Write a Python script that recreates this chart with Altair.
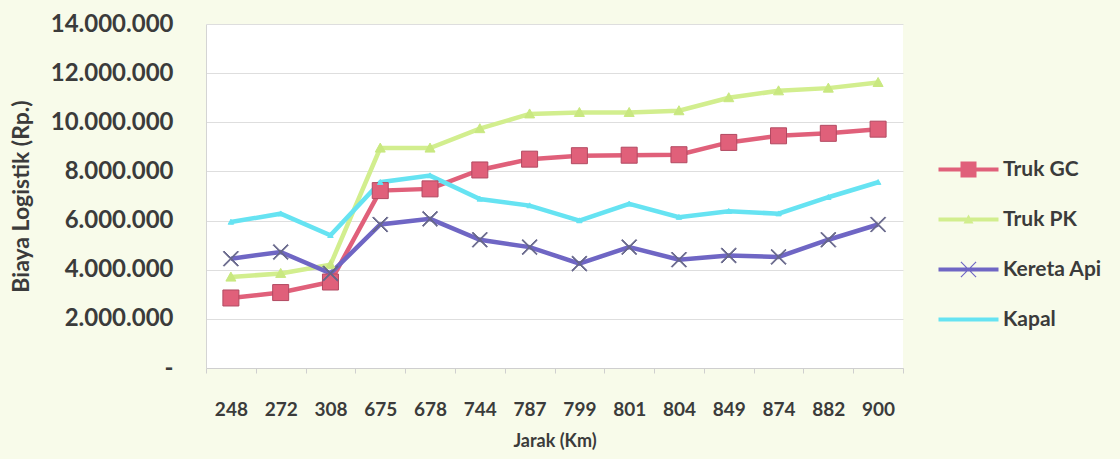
import altair as alt
import pandas as pd

# ---- data ----
jarak = ["248", "272", "308", "675", "678", "744", "787", "799", "801", "804", "849", "874", "882", "900"]
series = ["Truk GC", "Truk PK", "Kereta Api", "Kapal"]

truk_gc = [2850000, 3070000, 3500000, 7220000, 7290000, 8060000, 8500000, 8640000, 8660000, 8680000, 9180000, 9450000, 9550000, 9720000]
truk_pk = [3700000, 3850000, 4200000, 8950000, 8950000, 9740000, 10340000, 10400000, 10400000, 10470000, 11000000, 11280000, 11390000, 11620000]
kereta_api = [4450000, 4720000, 3850000, 5840000, 6070000, 5220000, 4920000, 4250000, 4920000, 4410000, 4580000, 4520000, 5220000, 5840000]
kapal = [5940000, 6280000, 5400000, 7560000, 7830000, 6880000, 6610000, 6000000, 6680000, 6140000, 6380000, 6280000, 6950000, 7560000]

y_ticks = [0, 2000000, 4000000, 6000000, 8000000, 10000000, 12000000, 14000000]

# ---- styling ----
line_colors = ["#E0607A", "#D2EE8E", "#6F66C4", "#66E3F2"]
marker_fill = ["#E0607A", "#C9E880", "#66668A", "#66E3F2"]
marker_stroke = ["#B24A62", "#C9E880", "#66668A", "#66E3F2"]
marker_size = [256, 100, 230, 30]

SQUARE = "M-1,-1H1V1H-1Z"
TRIANGLE = "M0,-1L1,0.8H-1Z"
X_PTS = [(-1, -0.9), (-0.9, -1), (0, -0.1), (0.9, -1), (1, -0.9), (0.1, 0),
         (1, 0.9), (0.9, 1), (0, 0.1), (-0.9, 1), (-1, 0.9), (-0.1, 0)]


def poly(pts, scale=1.0, dx=0.0):
    s = "M" + "L".join(f"{px * scale + dx:.3f},{py * scale:.3f}" for px, py in pts)
    return s + "Z"


X_SHAPE = poly(X_PTS)
marker_paths = [SQUARE, TRIANGLE, X_SHAPE, TRIANGLE]

BAR = "M-5,-0.2H1V0.2H-5Z"
legend_paths = [
    BAR + poly([(-1, -1), (1, -1), (1, 1), (-1, 1)], 0.8, -2),
    BAR + poly([(0, -1), (1, 0.8), (-1, 0.8)], 0.5, -2),
    BAR + poly(X_PTS, 0.8, -2),
    BAR,
]

rows = []
for s, vals in zip(series, [truk_gc, truk_pk, kereta_api, kapal]):
    for j, v in zip(jarak, vals):
        rows.append({"jarak": j, "seri": s, "biaya": v})
df = pd.DataFrame(rows)

FONT = "Lato"
TEXT_COLOR = "#3b3b3b"

x = alt.X(
    "jarak:N",
    sort=jarak,
    scale=alt.Scale(type="band", paddingInner=0, paddingOuter=0),
    axis=alt.Axis(
        title="Jarak (Km)",
        labelAngle=0,
        tickBand="extent",
        ticks=True,
        tickSize=5,
        tickColor="#cfcfcf",
        domainColor="#cfcfcf",
        grid=False,
        labelFont=FONT,
        labelFontSize=19,
        labelFontWeight="bold",
        labelColor=TEXT_COLOR,
        labelPadding=27,
        titleFont=FONT,
        titleFontSize=18,
        titleFontWeight="bold",
        titleColor=TEXT_COLOR,
        titlePadding=13,
    ),
)
y = alt.Y(
    "biaya:Q",
    scale=alt.Scale(domain=[0, 14000000], nice=False),
    axis=alt.Axis(
        title="Biaya Logistik (Rp.)",
        values=y_ticks,
        labelExpr="datum.value == 0 ? '-' : replace(format(datum.value, ','), regexp(',', 'g'), '.')",
        ticks=False,
        domainColor="#d4d4d4",
        gridColor="#dedede",
        gridWidth=1,
        labelFont=FONT,
        labelFontSize=24,
        labelFontWeight="bold",
        labelColor=TEXT_COLOR,
        labelPadding=33,
        titleFont=FONT,
        titleFontSize=23,
        titleFontWeight="bold",
        titleColor=TEXT_COLOR,
        titlePadding=17,
    ),
)

legend_props = dict(
    orient="none", legendX=772, legendY=135, title=None,
    symbolSize=400, symbolStrokeWidth=0, symbolOpacity=1,
    labelFont=FONT, labelFontSize=21, labelFontWeight="bold",
    labelColor=TEXT_COLOR, rowPadding=28, padding=0, labelOffset=4,
)

base = alt.Chart(df)

lines = base.mark_line(strokeWidth=4.5).encode(
    x=x, y=y,
    stroke=alt.Stroke("seri:N", scale=alt.Scale(domain=series, range=line_colors),
                      legend=alt.Legend(**legend_props)),
)

point_layers = []
for i, s in enumerate(series):
    point_layers.append(
        base.transform_filter(alt.datum.seri == s).mark_point(
            shape=marker_paths[i], size=marker_size[i], filled=True,
            fill=marker_fill[i], stroke=marker_stroke[i], strokeWidth=1, opacity=1,
        ).encode(x=x, y=y)
    )

legend_layer = base.mark_point(filled=True, opacity=0).encode(
    x=x, y=y,
    color=alt.Color("seri:N", scale=alt.Scale(domain=series, range=line_colors),
                    legend=alt.Legend(**legend_props)),
    shape=alt.Shape("seri:N", scale=alt.Scale(domain=series, range=legend_paths),
                    legend=alt.Legend(**legend_props)),
)

chart = alt.layer(lines, *point_layers, legend_layer).properties(
    width=697,
    height=344,
    padding={"left": 206, "top": 24, "right": 217, "bottom": 91},
    autosize=alt.AutoSizeParams(type="none"),
    background="#f8fbea",
).configure_view(fill="#ffffff", stroke=None)

chart.save("out.html", embed_options={"renderer": "svg", "actions": False})
